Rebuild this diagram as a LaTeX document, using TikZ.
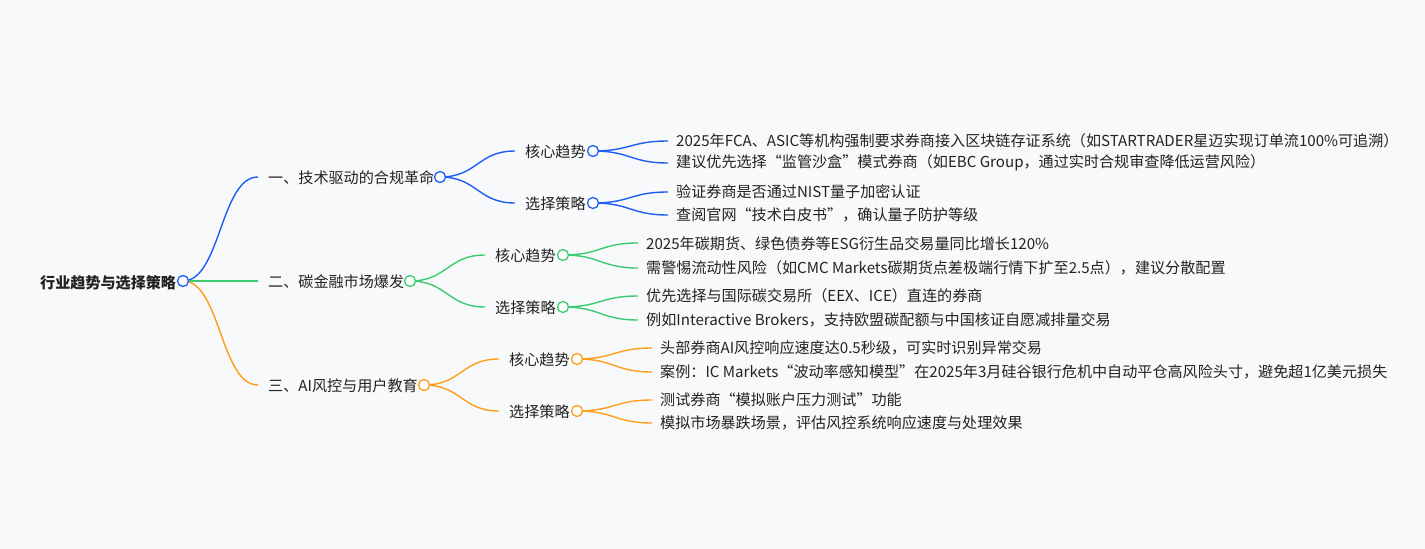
\documentclass[tikz,border=0pt]{standalone}
\usepackage{fontspec}
\setmainfont{Noto Sans CJK SC}
\usetikzlibrary{calc}
\definecolor{bg}{HTML}{F8F9FB}
\definecolor{cb}{HTML}{1F5EF5}
\definecolor{cg}{HTML}{3CCB72}
\definecolor{co}{HTML}{FF9E1B}
\definecolor{tx}{HTML}{222222}
\begin{document}
\begin{tikzpicture}[x=1pt,y=-1pt,
  txt/.style={anchor=west,inner sep=0pt,font=\fontsize{15.1pt}{17pt}\selectfont,text=tx},
  dot/.style={circle,draw=#1,fill=white,line width=1.3pt,minimum size=11pt,inner sep=0pt},
  br/.style={draw=#1,line width=1.4pt}]
\fill[bg] (0,0) rectangle (1425,549);
\useasboundingbox (0,0) rectangle (1425,549);
\newcommand{\lnk}[3]{\draw[br=#1] let \p1=(#2), \p2=(#3) in (\p1) .. controls ({0.5*\x1+0.5*\x2},\y1) and ({0.5*\x1+0.5*\x2},\y2) .. (\p2);}
% root
\node[txt,font=\fontsize{15.1pt}{17pt}\selectfont\bfseries] (root) at (40,283) {行业趋势与选择策略};
% level 1
\node[txt] (a) at (268,178) {一、技术驱动的合规革命};
\node[txt] (b) at (268,282) {二、碳金融市场爆发};
\node[txt] (c) at (268,386) {三、AI风控与用户教育};
\coordinate (ae) at (258,177);
\coordinate (be) at (258,281);
\coordinate (ce) at (258,385);
% level 2
\node[txt] (a1) at (525,152) {核心趋势};
\node[txt] (a2) at (525,204) {选择策略};
\node[txt] (b1) at (495,256) {核心趋势};
\node[txt] (b2) at (495,308) {选择策略};
\node[txt] (c1) at (509,360) {核心趋势};
\node[txt] (c2) at (509,412) {选择策略};
\coordinate (a1e) at (515,151);
\coordinate (a2e) at (515,203);
\coordinate (b1e) at (485,255);
\coordinate (b2e) at (485,307);
\coordinate (c1e) at (499,359);
\coordinate (c2e) at (499,411);
% leaves
\node[txt] (a11) at (676,141) {2025年FCA、ASIC等机构强制要求券商接入区块链存证系统（如STARTRADER星迈实现订单流100\%可追溯）};
\node[txt] (a12) at (676,163) {建议优先选择“监管沙盒”模式券商（如EBC Group，通过实时合规审查降低运营风险）};
\node[txt] (a21) at (676,192) {验证券商是否通过NIST量子加密认证};
\node[txt] (a22) at (676,215) {查阅官网“技术白皮书”，确认量子防护等级};
\node[txt] (b11) at (646,244) {2025年碳期货、绿色债券等ESG衍生品交易量同比增长120\%};
\node[txt] (b12) at (646,268) {需警惕流动性风险（如CMC Markets碳期货点差极端行情下扩至2.5点），建议分散配置};
\node[txt] (b21) at (646,296) {优先选择与国际碳交易所（EEX、ICE）直连的券商};
\node[txt] (b22) at (646,320) {例如Interactive Brokers，支持欧盟碳配额与中国核证自愿减排量交易};
\node[txt] (c11) at (660,348) {头部券商AI风控响应速度达0.5秒级，可实时识别异常交易};
\node[txt] (c12) at (660,372) {案例：IC Markets“波动率感知模型”在2025年3月硅谷银行危机中自动平仓高风险头寸，避免超1亿美元损失};
\node[txt] (c21) at (660,400) {测试券商“模拟账户压力测试”功能};
\node[txt] (c22) at (660,423) {模拟市场暴跌场景，评估风控系统响应速度与处理效果};
\foreach \p/\q in {a11/141,a12/163,a21/192,a22/215}{\coordinate (\p e) at (668,\q);}
\foreach \p/\q in {b11/243,b12/268,b21/296,b22/320}{\coordinate (\p e) at (638,\q);}
\foreach \p/\q in {c11/348,c12/372,c21/400,c22/423}{\coordinate (\p e) at (652,\q);}
% dots positions
\coordinate (rd) at (183,281);
\coordinate (ad) at (440,177);
\coordinate (bd) at (410,281);
\coordinate (cd) at (424,385);
\coordinate (a1d) at (593,151);
\coordinate (a2d) at (593,203);
\coordinate (b1d) at (563,255);
\coordinate (b2d) at (563,307);
\coordinate (c1d) at (577,359);
\coordinate (c2d) at (577,411);
% links
\lnk{cb}{rd}{ae}
\lnk{cg}{rd}{be}
\lnk{co}{rd}{ce}
\lnk{cb}{ad}{a1e}\lnk{cb}{ad}{a2e}
\lnk{cg}{bd}{b1e}\lnk{cg}{bd}{b2e}
\lnk{co}{cd}{c1e}\lnk{co}{cd}{c2e}
\lnk{cb}{a1d}{a11e}\lnk{cb}{a1d}{a12e}
\lnk{cb}{a2d}{a21e}\lnk{cb}{a2d}{a22e}
\lnk{cg}{b1d}{b11e}\lnk{cg}{b1d}{b12e}
\lnk{cg}{b2d}{b21e}\lnk{cg}{b2d}{b22e}
\lnk{co}{c1d}{c11e}\lnk{co}{c1d}{c12e}
\lnk{co}{c2d}{c21e}\lnk{co}{c2d}{c22e}
\node[dot=cb] (rdn) at (rd) {};
\node[dot=cb] (adn) at (ad) {};
\node[dot=cg] (bdn) at (bd) {};
\node[dot=co] (cdn) at (cd) {};
\node[dot=cb] at (a1d) {};\node[dot=cb] at (a2d) {};
\node[dot=cg] at (b1d) {};\node[dot=cg] at (b2d) {};
\node[dot=co] at (c1d) {};\node[dot=co] at (c2d) {};
\end{tikzpicture}
\end{document}
